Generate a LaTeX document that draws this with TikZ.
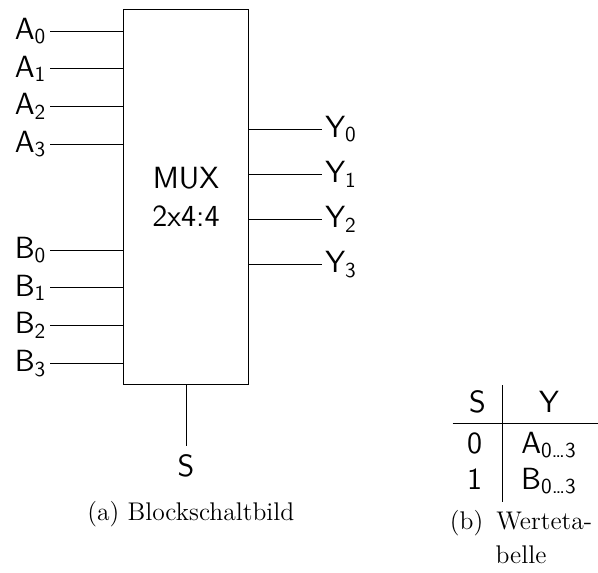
\documentclass[tikz,border=0pt,12pt]{standalone}
\begin{document}
\begin{tikzpicture}[x=1cm, y=1cm,
        sig/.style={font=\sffamily\large, inner sep=1.5pt},
        tabtxt/.style={font=\sffamily\large, inner sep=0pt, anchor=base},
        capt/.style={font=\normalsize, inner sep=0pt}]
            \useasboundingbox (0,0) rectangle (9.875,-9.446);
            % block
            \node[draw, minimum width=2.053cm, minimum height=6.188cm, inner sep=0pt,
                font=\sffamily\large, align=center] (mux) at (3.072,-3.248) {MUX\\2x4:4};
            \foreach \i/\y in {0/-0.512, 1/-1.134, 2/-1.756, 3/-2.378} {
                \node[sig, anchor=east] (a\i) at (0.826,\y) {A\textsubscript{\i}};
                \draw (a\i.east) -- (a\i.east -| mux.west);
            }
            \foreach \i/\y in {0/-4.128, 1/-4.752, 2/-5.376, 3/-6.0} {
                \node[sig, anchor=east] (b\i) at (0.826,\y) {B\textsubscript{\i}};
                \draw (b\i.east) -- (b\i.east -| mux.west);
            }
            \foreach \i/\y in {0/-2.130, 1/-2.876, 2/-3.622, 3/-4.368} {
                \node[sig, anchor=west] (y\i) at (5.312,\y) {Y\textsubscript{\i}};
                \draw (mux.east |- y\i.west) -- (y\i.west);
            }
            \node[sig, anchor=north, inner sep=4pt] (s) at (3.072,-7.365) {S};
            \draw (mux.south) -- (s.north);
            \node[capt, anchor=base] (capa) at (3.15,-8.587) {(a) Blockschaltbild};
            % table
            \node[tabtxt] (hs) at (7.886,-6.804) {S};
            \node[tabtxt] (hy) at (9.066,-6.804) {Y};
            \node[tabtxt] (r0s) at (7.836,-7.481) {0};
            \node[tabtxt] (r0y) at (9.066,-7.481) {A\textsubscript{0\ldots3}};
            \node[tabtxt] (r1s) at (7.836,-8.075) {1};
            \node[tabtxt] (r1y) at (9.066,-8.075) {B\textsubscript{0\ldots3}};
            \draw (8.296,-6.358) -- (8.296,-8.285);
            \draw (7.476,-6.99) -- (9.875,-6.99);
            \node[capt, align=center, anchor=north] (capb) at (8.604,-8.422)
                {\makebox[2.35cm][s]{(b) Werteta-}\\[1.5pt]belle};
        \end{tikzpicture}
\end{document}
